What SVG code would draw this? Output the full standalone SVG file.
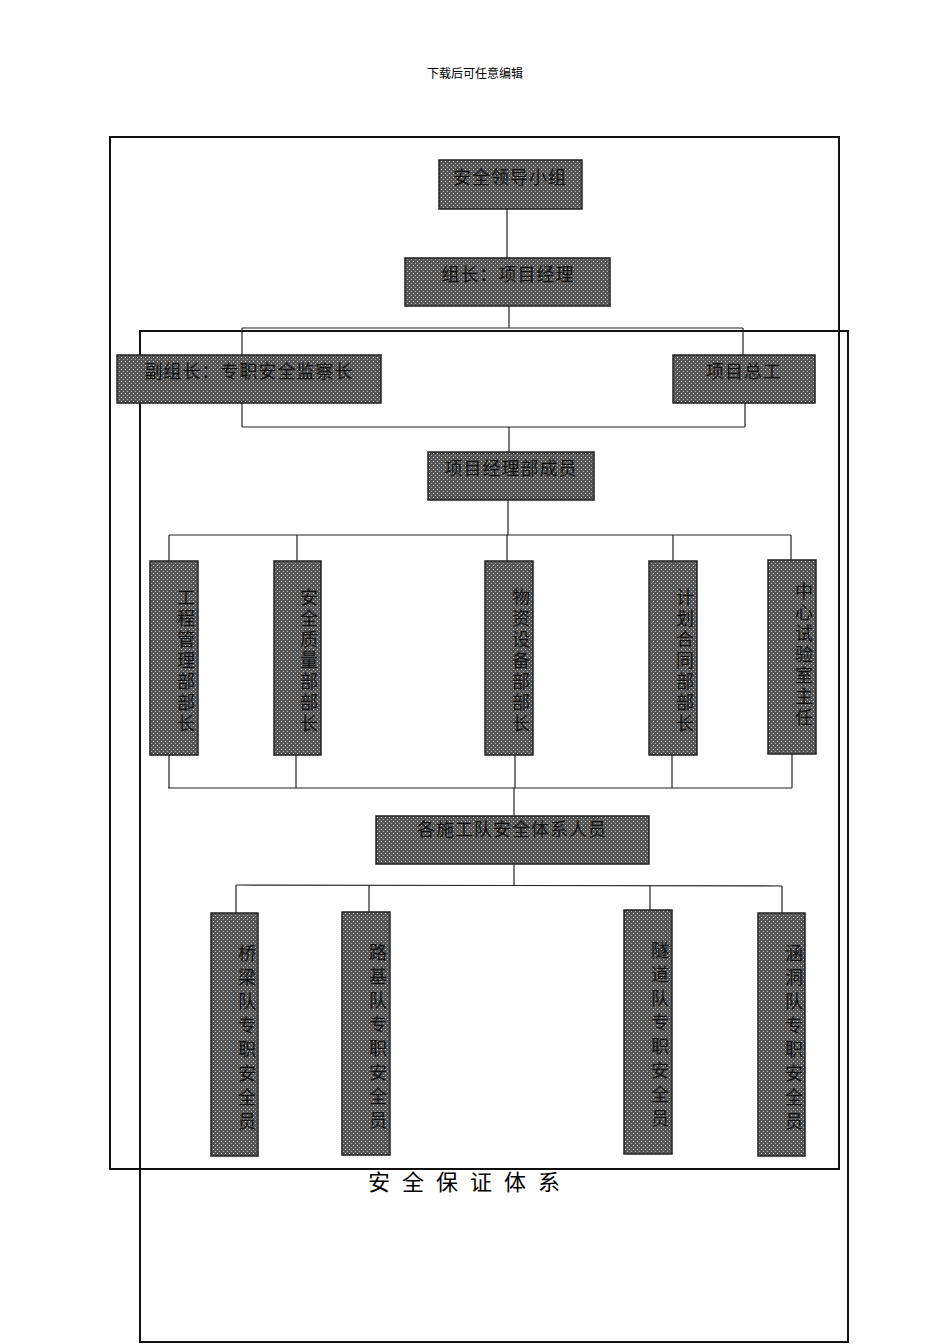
<svg xmlns="http://www.w3.org/2000/svg" width="950" height="1344" viewBox="0 0 950 1344">
<defs>
<pattern id="dots" width="4" height="4" patternUnits="userSpaceOnUse">
<rect width="4" height="4" fill="#555"/>
<rect x="1" y="1" width="1" height="1" fill="#e0e0e0"/>
<rect x="3" y="3" width="1" height="1" fill="#b0b0b0"/>
</pattern>
</defs>
<style>
.box{fill:url(#dots);stroke:#222;stroke-width:1.5}
.t{font-family:"Liberation Serif","Noto Sans CJK SC",serif;font-size:18px;fill:#111;text-anchor:middle;letter-spacing:1px}
.v{font-family:"Liberation Serif","Noto Sans CJK SC",serif;font-size:18px;fill:#111;writing-mode:vertical-rl;text-anchor:middle;letter-spacing:3px}
.w{letter-spacing:6px}
.c line{stroke:#222;stroke-width:1.2}
</style>
<rect width="950" height="1344" fill="#fff"/>
<text x="475" y="78" style="font-family:'Liberation Serif','Noto Sans CJK SC',serif;font-size:12px" text-anchor="middle">下载后可任意编辑</text>
<rect x="110" y="137" width="729" height="1032" fill="none" stroke="#111" stroke-width="2"/>
<rect x="140" y="331" width="708" height="1011" fill="none" stroke="#111" stroke-width="2"/>
<g class="c">
<line x1="507" y1="209" x2="507" y2="258"/>
<line x1="509" y1="306" x2="509" y2="328"/>
<line x1="242" y1="328" x2="743" y2="328"/>
<line x1="242" y1="328" x2="242" y2="355"/>
<line x1="743" y1="328" x2="743" y2="355"/>
<line x1="242" y1="403" x2="242" y2="427"/>
<line x1="745" y1="403" x2="745" y2="427"/>
<line x1="242" y1="427" x2="745" y2="427"/>
<line x1="509" y1="427" x2="509" y2="452"/>
<line x1="508" y1="500" x2="508" y2="535"/>
<line x1="169" y1="535" x2="791" y2="535"/>
<line x1="169" y1="535" x2="169" y2="561"/>
<line x1="297" y1="535" x2="297" y2="561"/>
<line x1="507" y1="535" x2="507" y2="561"/>
<line x1="673" y1="535" x2="673" y2="561"/>
<line x1="791" y1="535" x2="791" y2="561"/>
<line x1="169" y1="755" x2="169" y2="788"/>
<line x1="296" y1="755" x2="296" y2="788"/>
<line x1="515" y1="755" x2="515" y2="788"/>
<line x1="672" y1="755" x2="672" y2="788"/>
<line x1="792" y1="754" x2="792" y2="788"/>
<line x1="168" y1="788" x2="792" y2="788"/>
<line x1="514" y1="788" x2="514" y2="816"/>
<line x1="514" y1="864" x2="514" y2="885"/>
<line x1="236" y1="885" x2="782" y2="886"/>
<line x1="236" y1="885" x2="236" y2="913"/>
<line x1="369" y1="885" x2="369" y2="912"/>
<line x1="650" y1="885" x2="650" y2="910"/>
<line x1="782" y1="886" x2="782" y2="913"/>
</g>
<g id="n1"><rect class="box" x="439" y="160" width="143" height="49"/><text class="t" x="510" y="184">安全领导小组</text></g>
<g id="n2"><rect class="box" x="405" y="258" width="205" height="48"/><text class="t" x="508" y="281">组长：项目经理</text></g>
<g id="n3"><rect class="box" x="117" y="355" width="264" height="48"/><text class="t" x="249" y="378">副组长：专职安全监察长</text></g>
<g id="n4"><rect class="box" x="673" y="355" width="142" height="48"/><text class="t" x="744" y="378">项目总工</text></g>
<g id="n5"><rect class="box" x="428" y="452" width="166" height="48"/><text class="t" x="511" y="475">项目经理部成员</text></g>
<g id="n6"><rect class="box" x="150" y="561" width="48" height="194"/><text class="v" x="184" y="662">工程管理部部长</text></g>
<g id="n7"><rect class="box" x="274" y="561" width="47" height="194"/><text class="v" x="307" y="662">安全质量部部长</text></g>
<g id="n8"><rect class="box" x="485" y="561" width="48" height="194"/><text class="v" x="519" y="662">物资设备部部长</text></g>
<g id="n9"><rect class="box" x="649" y="561" width="48" height="194"/><text class="v" x="683" y="662">计划合同部部长</text></g>
<g id="n10"><rect class="box" x="768" y="560" width="48" height="194"/><text class="v" x="802" y="656">中心试验室主任</text></g>
<g id="n11"><rect class="box" x="376" y="816" width="273" height="48"/><text class="t" x="512" y="836">各施工队安全体系人员</text></g>
<g id="n12"><rect class="box" x="211" y="913" width="47" height="243"/><text class="v w" x="245" y="1040">桥梁队专职安全员</text></g>
<g id="n13"><rect class="box" x="342" y="912" width="48" height="243"/><text class="v w" x="376" y="1039">路基队专职安全员</text></g>
<g id="n14"><rect class="box" x="624" y="910" width="48" height="244"/><text class="v w" x="658" y="1037">隧道队专职安全员</text></g>
<g id="n15"><rect class="box" x="758" y="913" width="47" height="243"/><text class="v w" x="792" y="1040">涵洞队专职安全员</text></g>
<text x="470" y="1190" style="font-family:'Liberation Sans','Noto Sans CJK SC',sans-serif;font-size:22px;letter-spacing:12px" text-anchor="middle">安全保证体系</text>
</svg>
